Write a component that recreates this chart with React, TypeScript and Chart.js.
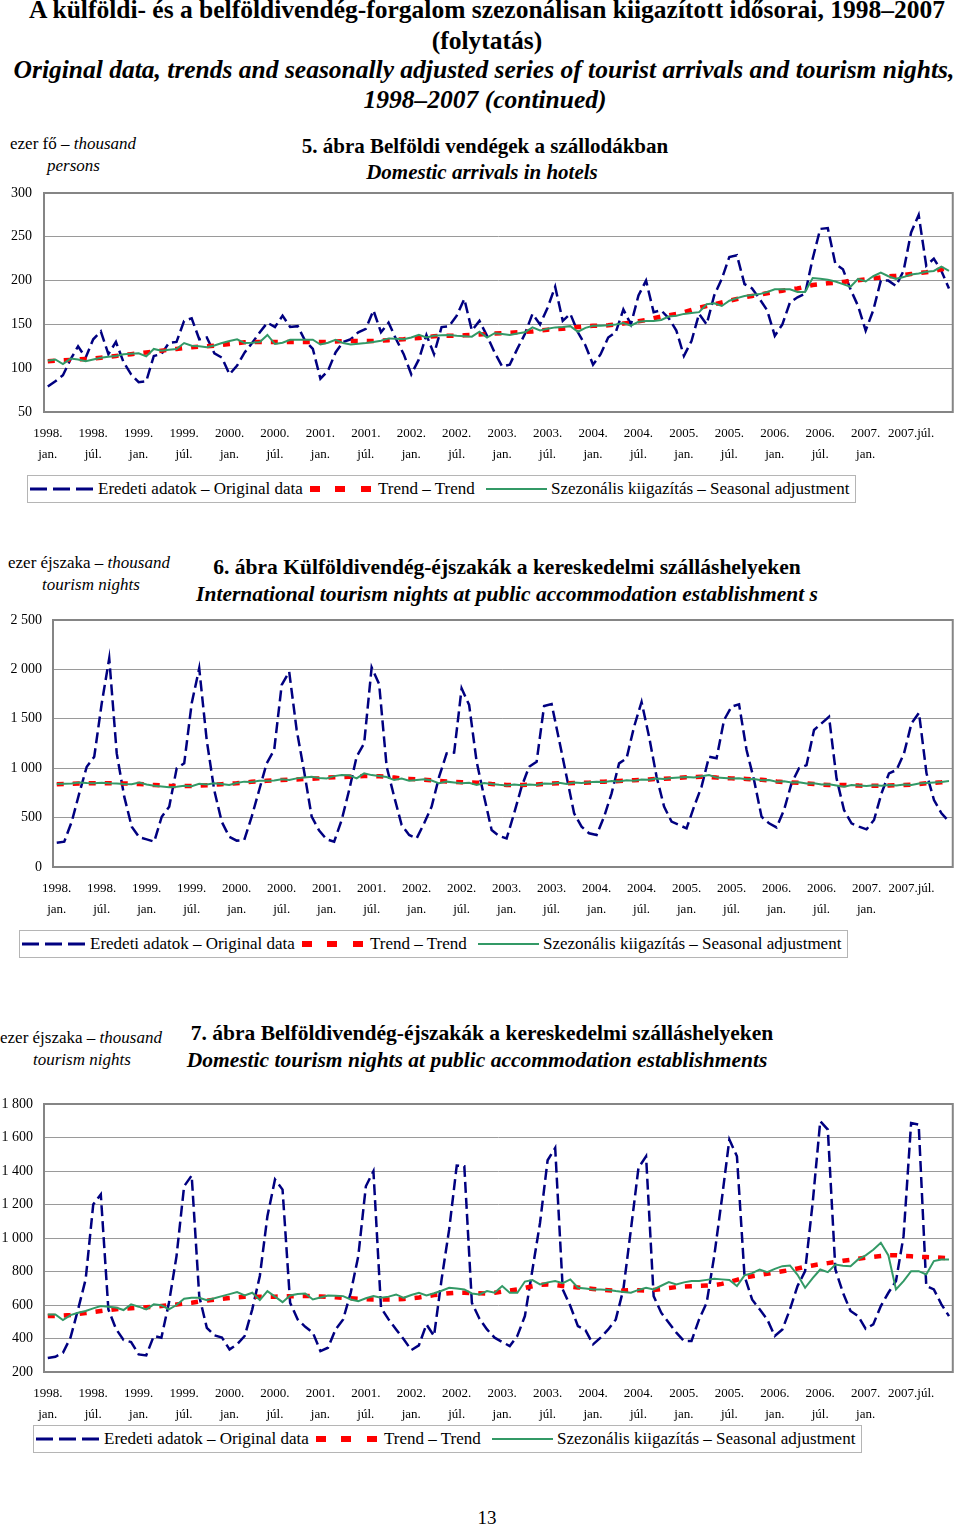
import React, { useEffect, useRef } from 'react';
import { Chart, registerables } from 'chart.js';

Chart.register(...registerables);

// ---------- categories / tick labels ----------
const years = ['1998', '1999', '2000', '2001', '2002', '2003', '2004', '2005', '2006', '2007'];
const monthNames = ['jan.', 'febr.', 'márc.', 'ápr.', 'máj.', 'jún.', 'júl.', 'aug.', 'szept.', 'okt.', 'nov.', 'dec.'];
const categories = years.flatMap((y) => monthNames.map((m) => `${y}. ${m}`));
const tickMonths = ['jan.', 'júl.'];

// ---------- 5. ábra: Domestic arrivals in hotels (thousand persons) ----------
const arrivalsOriginal = [
  79, 85, 92, 110, 125, 112, 133, 142, 116, 130, 107, 93,
  84, 85, 114, 116, 129, 130, 154, 157, 133, 135, 117, 112,
  93, 103, 118, 129, 141, 152, 147, 160, 147, 148, 131, 122,
  88, 97, 118, 130, 133, 141, 145, 166, 141, 152, 133, 116,
  93, 110, 138, 116, 147, 148, 160, 179, 143, 154, 137, 118,
  102, 104, 122, 139, 162, 150, 169, 193, 154, 162, 141, 126,
  104, 116, 135, 141, 167, 150, 183, 200, 164, 166, 157, 143,
  114, 131, 162, 150, 183, 202, 227, 229, 196, 191, 179, 166,
  137, 150, 175, 181, 185, 225, 259, 260, 219, 213, 190, 171,
  143, 166, 200, 200, 194, 211, 255, 275, 217, 225, 211, 191,
];
const arrivalsTrend = [
  108, 108.5, 109, 109.5, 110, 110.5, 111, 112, 113, 114, 115, 116,
  117, 118, 119, 120, 121, 122, 123, 124, 124.5, 125, 125.7, 126.5,
  127.5, 128.5, 129.5, 130, 130, 130, 130, 130, 130, 130, 130, 130,
  130, 130, 130.5, 131, 131, 131, 131, 131, 131.5, 132, 132.5, 133,
  134, 134.5, 135.5, 136.5, 137, 137, 137, 137.5, 138, 138.5, 139, 139.5,
  140, 140.5, 141, 141.5, 142, 143, 144, 144.5, 145, 146, 147, 148,
  148.5, 148.5, 149, 150, 151, 152, 153.5, 155, 157, 159, 160.5, 162,
  164, 166.5, 169, 171, 173, 175, 177, 179, 181, 182.5, 184, 185.5,
  187, 188.5, 190, 191, 193, 195, 196, 197, 197.5, 198.5, 199.5, 200.5,
  201.5, 202.5, 203.5, 205, 205.5, 206.5, 207.5, 208.5, 209.5, 211, 213, 214,
];
const arrivalsSeasonal = [
  108.6, 110, 104.8, 111, 110, 108, 110, 112, 113, 114, 116, 116.5,
  117, 113.5, 122, 120, 121, 122, 128.7, 125.7, 125, 124, 126, 128.7,
  131, 133, 128.7, 129, 130, 138, 127.6, 129, 132.5, 132.5, 132.5, 132.5,
  127, 129, 132.5, 128.7, 127, 128, 128.7, 130, 131.4, 134, 133.5, 133,
  135, 138, 135, 137, 137.5, 138, 137, 136.5, 136, 141.6, 135, 140,
  139, 138, 139.5, 141, 146.6, 143, 145, 146.6, 147, 148, 141.6, 146,
  148.5, 148.5, 149, 150, 151.5, 148.5, 153, 154, 154, 155, 159, 160,
  162, 163, 164, 173, 174, 171, 177, 180, 182.5, 183.5, 184.6, 187,
  190, 190, 190, 187, 187, 203, 202, 201, 199, 196, 193, 202,
  199, 205, 209, 205, 202, 204, 207, 208, 210, 211, 216, 211,
];

// ---------- 6. ábra: International tourism nights (thousand) ----------
const intlOriginal = [
  246, 256, 459, 745, 1015, 1117, 1657, 2112, 1150, 712, 408, 300,
  280, 256, 509, 611, 999, 1049, 1657, 2011, 1285, 779, 459, 307,
  267, 273, 509, 779, 1049, 1184, 1842, 1977, 1387, 965, 509, 368,
  280, 256, 476, 779, 1117, 1252, 2020, 1850, 1015, 712, 425, 324,
  290, 442, 611, 914, 1150, 1157, 1808, 1640, 1066, 712, 375, 314,
  290, 543, 813, 1015, 1066, 1630, 1650, 1285, 914, 543, 408, 341,
  324, 509, 746, 1049, 1100, 1420, 1670, 1319, 914, 611, 459, 425,
  391, 611, 813, 1117, 1100, 1488, 1623, 1646, 1184, 880, 509, 442,
  401, 577, 847, 999, 1032, 1387, 1454, 1520, 897, 577, 442, 408,
  381, 476, 746, 948, 982, 1150, 1454, 1560, 948, 678, 543, 459,
];
const intlTrend = [
  837, 840, 843, 846, 847, 848, 848, 847, 846, 845, 843, 840,
  835, 830, 826, 822, 820, 819, 820, 824, 828, 832, 838, 843,
  847, 855, 862, 868, 873, 877, 880, 883, 886, 890, 894, 898,
  904, 908, 911, 914, 917, 920, 921, 918, 914, 905, 897, 892,
  888, 882, 878, 870, 865, 862, 858, 856, 854, 848, 840, 834,
  830, 830, 830, 832, 835, 840, 845, 847, 847, 850, 852, 854,
  860, 864, 867, 870, 874, 878, 882, 886, 891, 894, 897, 903,
  908, 911, 914, 912, 905, 900, 897, 894, 891, 887, 882, 875,
  866, 860, 856, 852, 846, 840, 835, 830, 830, 830, 828, 824,
  823, 823, 823, 825, 827, 830, 833, 840, 847, 852, 857, 867,
];
const intlSeasonal = [
  840, 842, 845, 854, 850, 848, 852, 847, 845, 840, 837, 854,
  836, 823, 815, 806, 812, 823, 818, 843, 835, 847, 840, 830,
  850, 864, 860, 874, 872, 876, 887, 880, 897, 905, 914, 900,
  897, 920, 931, 928, 897, 948, 930, 921, 910, 880, 895, 874,
  880, 887, 875, 847, 864, 855, 847, 852, 830, 850, 840, 832,
  826, 835, 828, 836, 830, 845, 842, 852, 840, 855, 850, 858,
  862, 860, 870, 866, 878, 874, 885, 882, 895, 890, 900, 905,
  910, 906, 918, 931, 905, 902, 895, 898, 888, 890, 878, 880,
  862, 868, 855, 858, 845, 848, 835, 838, 826, 813, 830, 826,
  820, 828, 822, 830, 825, 834, 830, 845, 850, 855, 860, 870,
];

// ---------- 7. ábra: Domestic tourism nights (thousand) ----------
const domOriginal = [
  283, 291, 315, 405, 574, 753, 1200, 1260, 574, 458, 391, 379,
  305, 299, 415, 405, 613, 892, 1309, 1373, 653, 464, 419, 405,
  335, 365, 415, 574, 773, 1130, 1349, 1289, 613, 514, 470, 435,
  325, 345, 454, 514, 673, 892, 1309, 1399, 584, 514, 454, 395,
  331, 359, 484, 415, 753, 1051, 1432, 1429, 613, 518, 454, 405,
  379, 355, 415, 534, 812, 1091, 1464, 1538, 693, 594, 474, 450,
  365, 405, 454, 514, 693, 1051, 1419, 1488, 653, 554, 494, 435,
  385, 385, 514, 613, 892, 1230, 1588, 1488, 773, 633, 574, 514,
  415, 454, 574, 713, 802, 1210, 1697, 1647, 812, 673, 564, 534,
  458, 484, 594, 673, 743, 1011, 1687, 1677, 713, 693, 604, 534,
];
const domTrend = [
  534, 535, 537, 540, 546, 552, 558, 564, 570, 575, 578, 581,
  584, 587, 590, 594, 598, 603, 608, 613, 620, 626, 632, 637,
  642, 646, 649, 650, 650, 650, 650, 651, 652, 653, 653, 653,
  651, 649, 646, 643, 640, 637, 635, 633, 633, 633, 634, 636,
  640, 645, 652, 659, 665, 670, 673, 673, 672, 670, 668, 673,
  680, 687, 693, 702, 712, 720, 723, 720, 714, 709, 705, 701,
  696, 692, 688, 684, 686, 689, 688, 687, 690, 695, 701, 707,
  710, 712, 714, 716, 719, 726, 737, 750, 764, 772, 780, 787,
  794, 801, 809, 818, 828, 836, 844, 850, 857, 864, 870, 876,
  882, 887, 892, 897, 897, 894, 891, 888, 886, 884, 882, 880,
];
const domSeasonal = [
  544, 544, 510, 540, 554, 564, 580, 594, 590, 585, 570, 604,
  590, 574, 604, 598, 574, 600, 637, 643, 643, 629, 640, 653,
  665, 677, 657, 673, 629, 683, 650, 617, 657, 665, 669, 633,
  645, 657, 655, 653, 633, 623, 640, 653, 643, 650, 663, 643,
  660, 673, 657, 670, 685, 703, 698, 693, 669, 663, 683, 673,
  713, 673, 673, 740, 749, 723, 735, 743, 730, 753, 703, 698,
  693, 693, 690, 683, 678, 673, 690, 703, 693, 715, 737, 723,
  735, 743, 743, 750, 757, 753, 749, 713, 777, 790, 812, 796,
  816, 832, 836, 780, 703, 760, 812, 796, 842, 835, 832, 872,
  896, 930, 971, 896, 693, 743, 802, 802, 782, 862, 872, 872,
];

const SERIF = '"Liberation Serif", "Times New Roman", serif';
const NAVY = '#000080';
const RED = '#ff0000';
const GREEN = '#339966';

function xTickLabel(i: number): string | string[] {
  const year = years[Math.floor(i / 12)];
  const m = i % 12;
  if (m === 0) return [`${year}.`, tickMonths[0]];
  if (m === 6) {
    if (i === categories.length - 6) return [`${year}.${tickMonths[1]}`];
    return [`${year}.`, tickMonths[1]];
  }
  return '';
}

function fmtY(v: number): string {
  if (v >= 1000) {
    const th = Math.floor(v / 1000);
    const rest = String(v % 1000).padStart(3, '0');
    return `${th} ${rest}`;
  }
  return String(v);
}

const framePlugin = {
  id: 'plotFrame',
  beforeDatasetsDraw(chart: any) {
    const { ctx, chartArea: a } = chart;
    ctx.save();
    ctx.strokeStyle = '#858585';
    ctx.lineWidth = 2;
    ctx.strokeRect(a.left, a.top, a.right - a.left, a.bottom - a.top);
    ctx.restore();
  },
};

type ChartProps = {
  top: number;
  height: number;
  areaTop: number;
  areaBottom: number;
  areaLeft: number;
  areaRight: number;
  yMin: number;
  yMax: number;
  yStep: number;
  yPad: number;
  original: number[];
  trend: number[];
  seasonal: number[];
};

function SeriesChart(p: ChartProps) {
  const ref = useRef<HTMLCanvasElement | null>(null);
  useEffect(() => {
    if (!ref.current) return;
    const xHeight = p.top + p.height - p.areaBottom;
    const chart = new Chart(ref.current, {
      type: 'line',
      data: {
        labels: categories,
        datasets: [
          {
            label: 'Eredeti adatok – Original data',
            data: p.original,
            borderColor: NAVY,
            borderWidth: 2.5,
            borderDash: [11, 5],
            pointRadius: 0,
            tension: 0,
            fill: false,
            order: 2,
          },
          {
            label: 'Trend – Trend',
            data: p.trend,
            borderColor: RED,
            borderWidth: 4.5,
            borderDash: [7, 9],
            pointRadius: 0,
            tension: 0,
            fill: false,
            order: 1,
          },
          {
            label: 'Szezonális kiigazítás – Seasonal adjustment',
            data: p.seasonal,
            borderColor: GREEN,
            borderWidth: 2,
            pointRadius: 0,
            tension: 0,
            fill: false,
            order: 0,
          },
        ],
      },
      options: {
        animation: false,
        responsive: false,
        maintainAspectRatio: false,
        layout: {
          padding: { top: p.areaTop - p.top, right: 960 - p.areaRight, bottom: 0, left: 0 },
        },
        plugins: {
          legend: { display: false },
          tooltip: { enabled: false },
          title: { display: false },
        },
        scales: {
          x: {
            type: 'category',
            offset: true,
            grid: { display: false, drawTicks: false },
            border: { display: false },
            ticks: {
              autoSkip: false,
              maxRotation: 0,
              minRotation: 0,
              padding: 11,
              color: '#000',
              font: { family: SERIF, size: 13, lineHeight: 1.6 },
              callback: (_v: any, i: number) => xTickLabel(i),
            },
            afterFit: (s: any) => {
              s.height = xHeight;
            },
          },
          y: {
            min: p.yMin,
            max: p.yMax,
            ticks: {
              stepSize: p.yStep,
              padding: p.yPad,
              color: '#000',
              font: { family: SERIF, size: 14 },
              callback: (v: any) => fmtY(Number(v)),
            },
            grid: { color: '#9a9a9a', lineWidth: 1, drawTicks: false },
            border: { display: false },
            afterFit: (s: any) => {
              s.width = p.areaLeft;
              s.paddingTop = 0;
              s.paddingBottom = 0;
            },
          },
        },
      },
      plugins: [framePlugin],
    } as any);
    return () => chart.destroy();
  }, []);
  return (
    <canvas
      ref={ref}
      width={960}
      height={p.height}
      style={{ position: 'absolute', left: 0, top: p.top, width: 960, height: p.height }}
    />
  );
}

function Text(props: {
  x?: number;
  cx?: number;
  y: number;
  size: number;
  bold?: boolean;
  italic?: boolean;
  children: React.ReactNode;
}) {
  const lh = Math.round(props.size * 1.25);
  const style: React.CSSProperties = {
    position: 'absolute',
    top: props.y - lh / 2,
    lineHeight: `${lh}px`,
    fontSize: props.size,
    fontFamily: SERIF,
    fontWeight: props.bold ? 'bold' : 'normal',
    fontStyle: props.italic ? 'italic' : 'normal',
    whiteSpace: 'nowrap',
    color: '#000',
  };
  if (props.cx !== undefined) {
    style.left = props.cx - 500;
    style.width = 1000;
    style.textAlign = 'center';
  } else {
    style.left = props.x;
  }
  return <div style={style}>{props.children}</div>;
}

function Legend({ left, top }: { left: number; top: number }) {
  const h = 28;
  const mid = h / 2 - 1;
  const txt: React.CSSProperties = {
    position: 'absolute',
    top: 0,
    lineHeight: `${h - 2}px`,
    fontSize: 17,
    fontFamily: SERIF,
    whiteSpace: 'nowrap',
    color: '#000',
  };
  return (
    <div
      style={{
        position: 'absolute',
        left,
        top,
        width: 829,
        height: h,
        boxSizing: 'border-box',
        border: '1px solid #b5b5b5',
        background: '#fff',
      }}
    >
      <svg width={829} height={h} style={{ position: 'absolute', left: -1, top: -1 }}>
        <line x1={3} x2={67} y1={mid + 1} y2={mid + 1} stroke={NAVY} strokeWidth={3} strokeDasharray="17 6" />
        <rect x={283} y={mid - 2} width={10} height={6} fill={RED} />
        <rect x={308} y={mid - 2} width={10} height={6} fill={RED} />
        <rect x={334} y={mid - 2} width={10} height={6} fill={RED} />
        <line x1={459} x2={520} y1={mid + 1} y2={mid + 1} stroke={GREEN} strokeWidth={2} />
      </svg>
      <div style={{ ...txt, left: 70 }}>Eredeti adatok – Original data</div>
      <div style={{ ...txt, left: 350 }}>Trend – Trend</div>
      <div style={{ ...txt, left: 523 }}>Szezonális kiigazítás – Seasonal adjustment</div>
    </div>
  );
}

export default function App() {
  return (
    <div style={{ position: 'absolute', left: 0, top: 0, width: 960, height: 1526, background: '#fff', overflow: 'hidden' }}>
      <Text cx={487} y={10} size={25.5} bold>
        A külföldi- és a belföldivendég-forgalom szezonálisan kiigazított idősorai, 1998–2007
      </Text>
      <Text cx={487} y={41} size={25.5} bold>
        (folytatás)
      </Text>
      <Text cx={484} y={70} size={25.5} bold italic>
        Original data, trends and seasonally adjusted series of tourist arrivals and tourism nights,
      </Text>
      <Text cx={485} y={100} size={25.5} bold italic>
        1998–2007 (continued)
      </Text>

      {/* 5. ábra */}
      <Text x={10} y={143} size={17}>
        ezer fő – <i>thousand</i>
      </Text>
      <Text x={47} y={165} size={17} italic>
        persons
      </Text>
      <Text cx={485} y={146} size={21} bold>
        5. ábra Belföldi vendégek a szállodákban
      </Text>
      <Text cx={482} y={172} size={21} bold italic>
        Domestic arrivals in hotels
      </Text>
      <SeriesChart
        top={180}
        height={290}
        areaTop={193}
        areaBottom={412}
        areaLeft={44}
        areaRight={953}
        yMin={50}
        yMax={300}
        yStep={50}
        yPad={12}
        original={arrivalsOriginal}
        trend={arrivalsTrend}
        seasonal={arrivalsSeasonal}
      />
      <Legend left={27} top={475} />

      {/* 6. ábra */}
      <Text x={8} y={562} size={17}>
        ezer éjszaka – <i>thousand</i>
      </Text>
      <Text x={42} y={584} size={17} italic>
        tourism nights
      </Text>
      <Text cx={507} y={567} size={21.5} bold>
        6. ábra Külföldivendég-éjszakák a kereskedelmi szálláshelyeken
      </Text>
      <Text cx={507} y={594} size={21.5} bold italic>
        International tourism nights at public accommodation establishment s
      </Text>
      <SeriesChart
        top={608}
        height={312}
        areaTop={620}
        areaBottom={867}
        areaLeft={53}
        areaRight={958}
        yMin={0}
        yMax={2500}
        yStep={500}
        yPad={11}
        original={intlOriginal}
        trend={intlTrend}
        seasonal={intlSeasonal}
      />
      <Legend left={19} top={930} />

      {/* 7. ábra */}
      <Text x={0} y={1037} size={17}>
        ezer éjszaka – <i>thousand</i>
      </Text>
      <Text x={33} y={1059} size={17} italic>
        tourism nights
      </Text>
      <Text cx={482} y={1033} size={21.5} bold>
        7. ábra Belföldivendég-éjszakák a kereskedelmi szálláshelyeken
      </Text>
      <Text cx={477} y={1060} size={21.5} bold italic>
        Domestic tourism nights at public accommodation establishments
      </Text>
      <SeriesChart
        top={1092}
        height={333}
        areaTop={1104}
        areaBottom={1372}
        areaLeft={44}
        areaRight={958}
        yMin={200}
        yMax={1800}
        yStep={200}
        yPad={11}
        original={domOriginal}
        trend={domTrend}
        seasonal={domSeasonal}
      />
      <Legend left={33} top={1425} />

      <Text cx={487} y={1518} size={19}>
        13
      </Text>
    </div>
  );
}
